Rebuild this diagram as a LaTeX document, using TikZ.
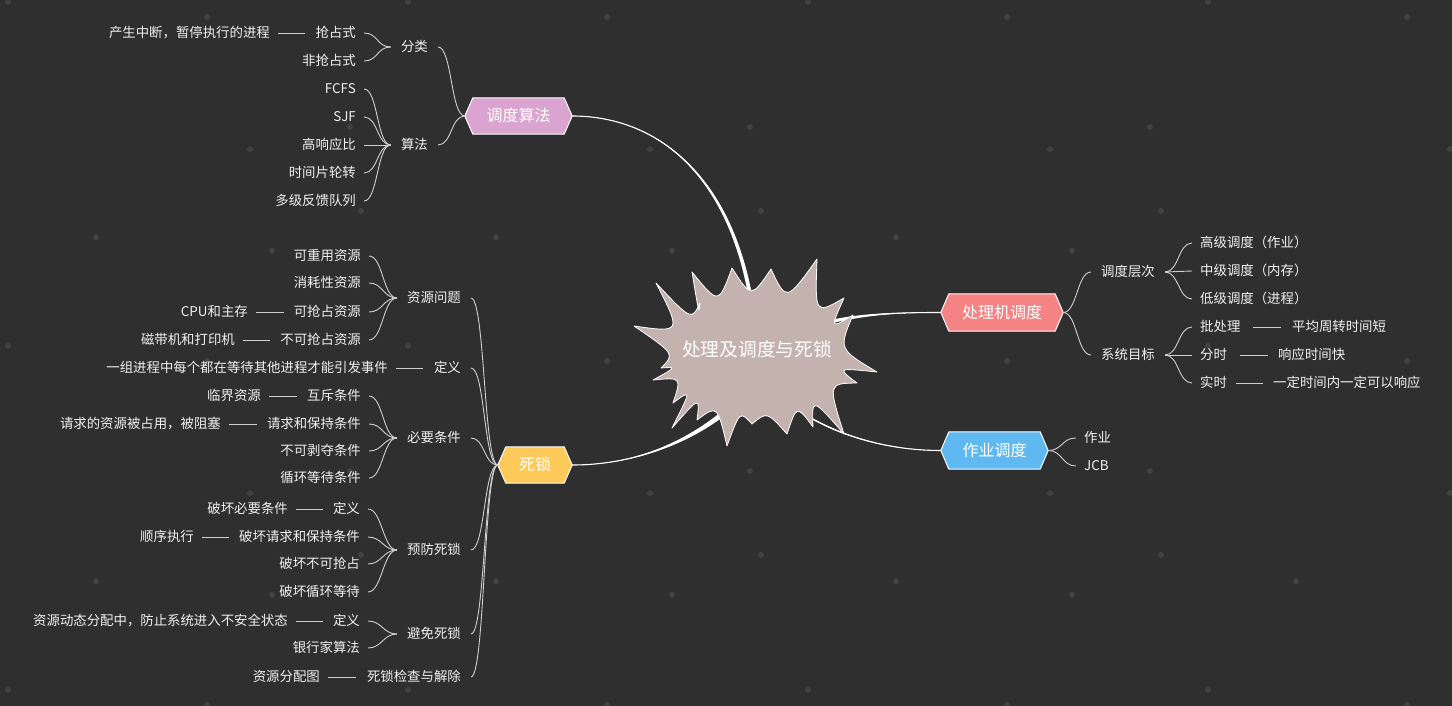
\documentclass[tikz,border=0pt]{standalone}
\usepackage{fontspec}
\setmainfont{Noto Sans CJK SC}
\definecolor{bg}{HTML}{2F2F2F}
\definecolor{dotc}{HTML}{414141}
\definecolor{leafc}{HTML}{F0F0F0}
\definecolor{linec}{HTML}{CFCFCF}
\definecolor{burst}{HTML}{C4B2AF}
\definecolor{pinkc}{HTML}{DBA3CF}
\definecolor{yellowc}{HTML}{FDC958}
\definecolor{redc}{HTML}{F58383}
\definecolor{bluec}{HTML}{5FB8F0}
\pgfdeclarelayer{dots}\pgfdeclarelayer{lines}\pgfdeclarelayer{shapes}
\pgfsetlayers{dots,lines,shapes,main}
\tikzset{
  leaf/.style={font=\fontsize{13.4}{16}\selectfont, text=leafc, inner xsep=8pt, inner ysep=0pt, text height=11.4pt, text depth=1.6pt},
  mid/.style={leaf, inner xsep=10pt},
  hex/.style={inner sep=0pt, font=\fontsize{16}{19}\selectfont, text=white, text height=13.6pt, text depth=2pt},
  cenf/.style={inner sep=0pt, font=\fontsize{18.7}{22}\selectfont, text=white},
  conn/.style={draw=linec, line width=0.9pt},
  dashln/.style={draw=linec, line width=0.9pt},
}
\newcommand\LeftCon[2]{\draw[conn] (#1.west) .. controls +(-14,0) and +(14,0) .. (#2.east);}
\newcommand\RightCon[2]{\draw[conn] (#1.east) .. controls +(14,0) and +(-14,0) .. (#2.west);}
\newcommand\HexBg[2]{\begin{pgfonlayer}{shapes}\draw[white, line width=1pt, fill=#2, line join=round] (#1.west) -- ([xshift=8pt]#1.north west) -- ([xshift=-8pt]#1.north east) -- (#1.east) -- ([xshift=-8pt]#1.south east) -- ([xshift=8pt]#1.south west) -- cycle;\end{pgfonlayer}}
\begin{document}
\begin{tikzpicture}[x=1pt,y=-1pt]
\useasboundingbox (0,0) rectangle (1452,706);
\begin{pgfonlayer}{dots}
\fill[bg] (0,0) rectangle (1452,706);
\foreach \ox in {0,400,800,1200}{
  \foreach \oy in {0,344,688}{
    \foreach \dx/\dy in {8/2,207/17,350/127,250/149,361/211,96/237,272/251}{
      \fill[dotc] ({\ox+\dx},{\oy+\dy}) circle (3);
    }
  }
}
\end{pgfonlayer}

% center
\node[cenf] (cen) at (757,349) {处理及调度与死锁};
\begin{pgfonlayer}{shapes}
\draw[draw=white, line width=0.8pt, fill=burst, line join=round] (634,326)
  \foreach \tx/\ty/\va in {656/283/203, 700/303/217, 692/272/225, 732/268/242, 771/269/266, 817/259/291, 844/298/315, 853/315/333, 877/372/354, 857/383/373, 844/434/390, 813/427/408, 787/434/421, 752/424/443, 727/446/462, 697/420/479, 672/428/494, 673/403/503, 653/380/517, 661/368/528, 634/326/541}
  { .. controls ({757+82*cos(\va)},{355+57*sin(\va)}) .. (\tx,\ty) } -- cycle;
\end{pgfonlayer}

% main branches
\node[hex, minimum width=107pt, minimum height=36pt] (dd) at (518.5,116) {调度算法};
\node[hex, minimum width=74pt, minimum height=36pt] (sl) at (535,465) {死锁};
\node[hex, minimum width=122pt, minimum height=37pt] (cj) at (1002,312.5) {处理机调度};
\node[hex, minimum width=107pt, minimum height=37pt] (zy) at (994.5,450.5) {作业调度};
\HexBg{dd}{pinkc}
\HexBg{sl}{yellowc}
\HexBg{cj}{redc}
\HexBg{zy}{bluec}

% thick connectors from center
\begin{pgfonlayer}{lines}
\fill[white] (dd.east) .. controls +(88,0) and +(-15,-150) .. ([shift={(-4,-19)}]cen.center) -- ([shift={(0,-19)}]cen.center) .. controls +(-15,-150) and +(88,0) .. (dd.east) -- cycle;
\draw[white, line width=1.1pt] (dd.east) .. controls +(88,0) and +(-15,-150) .. ([shift={(-2,-19)}]cen.center);
\fill[white] (sl.east) .. controls +(78,0) and +(-35,36) .. ([shift={(-14,43)}]cen.center) -- ([shift={(-10,47)}]cen.center) .. controls +(-35,36) and +(78,0) .. (sl.east) -- cycle;
\draw[white, line width=1.1pt] (sl.east) .. controls +(78,0) and +(-35,36) .. ([shift={(-12,45)}]cen.center);
\fill[white] (cj.west) .. controls +(-50,0) and +(50,-16) .. ([shift={(43,-21)}]cen.center) -- ([shift={(43,-17)}]cen.center) .. controls +(50,-16) and +(-50,0) .. (cj.west) -- cycle;
\draw[white, line width=1.1pt] (cj.west) .. controls +(-50,0) and +(50,-16) .. ([shift={(43,-19)}]cen.center);
\fill[white] (zy.west) .. controls +(-70,0) and +(35,33) .. ([shift={(16,41)}]cen.center) -- ([shift={(20,45)}]cen.center) .. controls +(35,33) and +(-70,0) .. (zy.west) -- cycle;
\draw[white, line width=1.1pt] (zy.west) .. controls +(-70,0) and +(35,33) .. ([shift={(18,43)}]cen.center);
\end{pgfonlayer}

% ---- 调度算法
\node[mid, anchor=east] (fl) at (438,47) {分类};
\node[mid, anchor=east] (sf) at (438,145) {算法};
\node[leaf, anchor=east] (qzs) at (364,33) {抢占式};
\node[leaf, anchor=east] (fqzs) at (364,61) {非抢占式};
\node[leaf, anchor=east] (fcfs) at (364,89) {FCFS};
\node[leaf, anchor=east] (sjf) at (364,117) {SJF};
\node[leaf, anchor=east] (gxyb) at (364,145) {高响应比};
\node[leaf, anchor=east] (sjp) at (364,173) {时间片轮转};
\node[leaf, anchor=east] (djfk) at (364,201) {多级反馈队列};
\node[leaf, anchor=east] (n1) at (278,33) {产生中断，暂停执行的进程};
\LeftCon{dd}{fl}\LeftCon{dd}{sf}
\LeftCon{fl}{qzs}\LeftCon{fl}{fqzs}
\LeftCon{sf}{fcfs}\LeftCon{sf}{sjf}\LeftCon{sf}{gxyb}\LeftCon{sf}{sjp}\LeftCon{sf}{djfk}
\draw[dashln, shorten >=2pt] (n1.east) -- (qzs.west);

% ---- 死锁
\node[mid, anchor=east] (zywt) at (471,298) {资源问题};
\node[mid, anchor=east] (dy1) at (471,368) {定义};
\node[mid, anchor=east] (byt) at (471,438) {必要条件};
\node[mid, anchor=east] (yfsl) at (471,550) {预防死锁};
\node[mid, anchor=east] (bmsl) at (471,634) {避免死锁};
\node[mid, anchor=east] (jcjc) at (471,677) {死锁检查与解除};
\LeftCon{sl}{zywt}\LeftCon{sl}{dy1}\LeftCon{sl}{byt}\LeftCon{sl}{yfsl}\LeftCon{sl}{bmsl}\LeftCon{sl}{jcjc}

\node[leaf, anchor=east] (kcy) at (369,256) {可重用资源};
\node[leaf, anchor=east] (xhx) at (369,283) {消耗性资源};
\node[leaf, anchor=east] (kqz) at (369,312) {可抢占资源};
\node[leaf, anchor=east] (bkqz) at (369,340) {不可抢占资源};
\LeftCon{zywt}{kcy}\LeftCon{zywt}{xhx}\LeftCon{zywt}{kqz}\LeftCon{zywt}{bkqz}

\node[leaf, anchor=east] (hc) at (369,396) {互斥条件};
\node[leaf, anchor=east] (qqbc) at (369,424) {请求和保持条件};
\node[leaf, anchor=east] (bkbd) at (369,451) {不可剥夺条件};
\node[leaf, anchor=east] (xhdd) at (369,478) {循环等待条件};
\LeftCon{byt}{hc}\LeftCon{byt}{qqbc}\LeftCon{byt}{bkbd}\LeftCon{byt}{xhdd}

\node[leaf, anchor=east] (dy2) at (368,509) {定义};
\node[leaf, anchor=east] (phqq) at (368,537) {破坏请求和保持条件};
\node[leaf, anchor=east] (phbk) at (368,564) {破坏不可抢占};
\node[leaf, anchor=east] (phxh) at (368,592) {破坏循环等待};
\LeftCon{yfsl}{dy2}\LeftCon{yfsl}{phqq}\LeftCon{yfsl}{phbk}\LeftCon{yfsl}{phxh}

\node[leaf, anchor=east] (dy3) at (368,621) {定义};
\node[leaf, anchor=east] (yhj) at (368,648) {银行家算法};
\LeftCon{bmsl}{dy3}\LeftCon{bmsl}{yhj}

\node[leaf, anchor=east] (ncpu) at (256,312) {CPU和主存};
\node[leaf, anchor=east] (ncd) at (243,340) {磁带机和打印机};
\node[leaf, anchor=east] (ndy) at (396,368) {一组进程中每个都在等待其他进程才能引发事件};
\node[leaf, anchor=east] (nlj) at (269,396) {临界资源};
\node[leaf, anchor=east] (nqq) at (229,424) {请求的资源被占用，被阻塞};
\node[leaf, anchor=east] (nph) at (296,509) {破坏必要条件};
\node[leaf, anchor=east] (nsx) at (202,537) {顺序执行};
\node[leaf, anchor=east] (nzy) at (296,621) {资源动态分配中，防止系统进入不安全状态};
\node[leaf, anchor=east] (nfp) at (328,677) {资源分配图};
\draw[dashln, shorten >=2pt] (ncpu.east) -- (kqz.west);
\draw[dashln, shorten >=2pt] (ncd.east) -- (bkqz.west);
\draw[dashln, shorten >=1pt] (ndy.east) -- (dy1.west);
\draw[dashln, shorten >=2pt] (nlj.east) -- (hc.west);
\draw[dashln, shorten >=2pt] (nqq.east) -- (qqbc.west);
\draw[dashln, shorten >=2pt] (nph.east) -- (dy2.west);
\draw[dashln, shorten >=2pt] (nsx.east) -- (phqq.west);
\draw[dashln, shorten >=2pt] (nzy.east) -- (dy3.west);
\draw[dashln, shorten >=1pt] (nfp.east) -- (jcjc.west);

% ---- 处理机调度
\node[mid, anchor=west] (dcc) at (1091,272) {调度层次};
\node[mid, anchor=west] (xtmb) at (1091,355) {系统目标};
\RightCon{cj}{dcc}\RightCon{cj}{xtmb}
\node[leaf, anchor=west] (gj) at (1192,243) {高级调度（作业）};
\node[leaf, anchor=west] (zj) at (1192,271) {中级调度（内存）};
\node[leaf, anchor=west] (dj) at (1192,299) {低级调度（进程）};
\node[leaf, anchor=west] (pcl) at (1192,327) {批处理};
\node[leaf, anchor=west] (fs) at (1192,355) {分时};
\node[leaf, anchor=west] (ss) at (1192,383) {实时};
\RightCon{dcc}{gj}\RightCon{dcc}{zj}\RightCon{dcc}{dj}
\RightCon{xtmb}{pcl}\RightCon{xtmb}{fs}\RightCon{xtmb}{ss}
\node[leaf, anchor=west] (npj) at (1284,327) {平均周转时间短};
\node[leaf, anchor=west] (nxy) at (1270,355) {响应时间快};
\node[leaf, anchor=west] (nyd) at (1265,383) {一定时间内一定可以响应};
\draw[dashln, shorten <=4pt, shorten >=3pt] (pcl.east) -- (npj.west);
\draw[dashln, shorten <=5pt, shorten >=2pt] (fs.east) -- (nxy.west);
\draw[dashln, shorten <=1pt, shorten >=2pt] (ss.east) -- (nyd.west);

% ---- 作业调度
\node[leaf, anchor=west] (zy1) at (1076,438) {作业};
\node[leaf, anchor=west] (jcb) at (1076,466) {JCB};
\RightCon{zy}{zy1}\RightCon{zy}{jcb}
\end{tikzpicture}
\end{document}
